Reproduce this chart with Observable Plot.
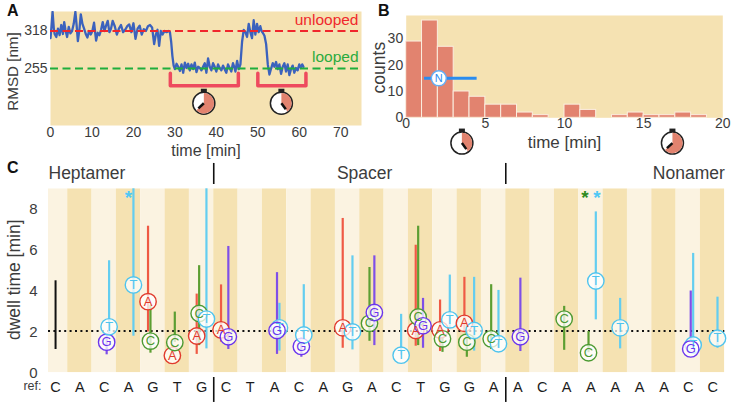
<!DOCTYPE html>
<html><head><meta charset="utf-8">
<script src="https://cdn.jsdelivr.net/npm/d3@7"></script>
<script src="https://cdn.jsdelivr.net/npm/@observablehq/plot@0.6"></script>
<style>
html,body{margin:0;padding:0;background:#fff;overflow:hidden}
#root{position:relative;width:732px;height:405px;font-family:"Liberation Sans",Arial,sans-serif}
#root svg{position:absolute;background:transparent;overflow:visible}
.letter{position:absolute;font:bold 16px "Liberation Sans",Arial,sans-serif;color:#111;line-height:1}
</style></head><body><div id="root"></div>
<script>
// Panel A: RMSD trace
const traceTime=[0,0.2,0.5,0.8,1,1.4,1.8,2.2,2.6,3,3.3,3.6,4,4.4,4.8,5.2,5.6,6,6.3,6.6,7,7.3,7.7,8.1,8.5,8.9,9.3,9.7,10.1,10.5,11,11.4,11.8,12.2,12.6,13,13.4,13.8,14.2,14.6,15,15.5,16,16.5,17,17.5,18,18.5,19,19.5,20,20.5,21,21.5,22,22.5,23,23.5,24,24.5,25,25.4,25.8,26.2,26.6,27,27.5,28,28.5,28.8,29.1,29.4,29.7,30,30.4,30.8,31.2,31.6,32,32.4,32.8,33.2,33.6,34,34.4,34.8,35.2,35.6,36,36.4,36.8,37.2,37.6,38,38.4,38.8,39.2,39.6,40,40.4,40.8,41.2,41.6,42,42.4,42.8,43.2,43.6,44,44.3,44.6,45,45.4,45.8,46.2,46.6,47,47.4,47.8,48.2,48.6,49,49.4,49.8,50.2,50.6,50.9,51.2,51.6,52,52.4,52.8,53.2,53.6,54,54.4,54.8,55.2,55.6,56,56.4,56.8,57.2,57.6,58,58.4,58.8,59.2,59.6,60,60.4,60.7,61];
const traceNm=[306,322,350,322,313,308,322,311,328,313,333,320,308,325,314,318,330,350,328,301,322,346,330,322,313,307,318,312,318,332,302,315,311,320,333,318,327,335,316,322,335,326,312,322,328,316,320,326,329,316,331,305,322,327,312,321,318,326,328,324,296,312,320,293,318,312,318,316,318,316,300,276,260,254,263,258,251,262,248,265,256,263,252,262,254,265,249,258,256,252,258,264,248,272,258,252,264,258,250,262,256,252,260,254,248,262,256,250,264,258,250,268,254,262,300,320,316,308,330,316,306,336,312,330,316,326,318,315,310,296,262,245,255,264,258,266,254,262,246,258,264,250,262,244,254,260,248,256,252,262,256,262,258,254,256,258,286];
const unloopedLevel=318, loopedLevel=255;
const bracketOne={t:[28.9,28.9,45.3,45.3],nm:[247,226,226,247]};
const bracketTwo={t:[50,50,61.6,61.6],nm:[247,226,226,247]};
const clocksA=[{x:37.1,y:196,turn:0.63},{x:55.8,y:196,turn:0.4}];

// Panel B: histogram
const binStart=[0,1,2,3,4,5,6,7,8,9,10,11,12,13,14,15,16,17,18];
const binCount=[29,37,27,10,8,5,5,2,1,0,5,3,0,1,2,1,1,2,1];
const medianN={x1:1.16,x2:4.48,mid:2.06,y:15};
const clocksB=[{x:3.55,y:-9.8,turn:0.4},{x:16.85,y:-9.8,turn:0.63}];

// Panel C: dwell times
const refBases=["C","A","C","A","G","T","G","C","T","A","C","A","G","A","C","T","G","G","A","A","C","A","A","A","A","A","C","C"];
const dwellCol =[2,2,3,4,4,5,5,6,6,6,7,7,9,9,10,10,12,12,13,13,14,15,15,15,16,16,16,17,17,17,18,18,19,21,22,22,23,26,26,27];
const dwellBase=["G","T","T","A","C","A","C","A","C","T","A","G","T","G","G","T","A","T","C","G","T","A","C","G","A","C","T","A","C","T","C","T","G","C","C","T","T","T","G","T"];
const dwellMid =[1.5,2.25,4.3,3.48,1.55,0.85,1.48,1.8,2.9,2.63,2.1,1.76,2.2,2.07,1.29,1.85,2.2,2.0,2.42,2.95,0.86,2.07,2.73,2.3,2.1,1.66,2.59,2.42,1.5,2.07,1.66,1.42,1.76,2.63,0.98,4.49,2.2,1.36,1.17,1.69];
const dwellLow =[0.88,1.9,1.79,2.0,0.96,0.85,1.48,0.9,1.33,1.17,1.5,1.14,1.06,0.9,0.76,1.6,1.2,1.12,1.54,1.33,0.86,1.3,1.33,1.2,1.04,1.0,2.2,2.0,0.76,1.06,1.14,1.2,1.04,1.1,0.98,2.59,1.17,1.1,1.0,1.2];
const dwellHigh=[1.9,5.48,9,7.17,3.3,1.3,2.97,3.85,5.24,9,4.3,6.18,3.4,4.9,1.7,4.31,7.55,5.72,5.15,5.72,2.86,6.24,7.17,3.64,3.56,2.1,4.78,4.67,2.2,4.67,4.31,4.03,4.63,3.25,2.02,7.87,3.64,5.84,4.0,3.7];
const stars=[{x:3,c:"#4fc8f5"},{x:21.75,c:"#2e8b1e"},{x:22.25,c:"#4fc8f5"}];
const segmentNames=["Heptamer","Spacer","Nonamer"];
const segmentX=[-0.29,12.7,27.5];
const dividers=[6.5,18.5];
const meanDwell=2.05;
const referenceBar={low:1.14,high:4.5};

const baseOffset={A:-0.2,C:-0.1,G:0.1,T:0.2};
const baseLine={A:"#ef5a45",C:"#5c9e32",G:"#7f4fe8",T:"#63cdf0"};
const baseText={A:"#e03a2c",C:"#4c9a32",G:"#6a35ee",T:"#4fc4ee"};
const SAND="#F5E2B2", LIGHT="#FBF3E1", SALMON="#E2836F", GREY="#3c3c3c";

const dwell=dwellCol.map((c,i)=>({x:c+baseOffset[dwellBase[i]],b:dwellBase[i],m:dwellMid[i],l:dwellLow[i],h:dwellHigh[i]}));
const trace=traceTime.map((t,i)=>({t,nm:traceNm[i]}));
const bins=binStart.map((s,i)=>({s,c:binCount[i]})).filter(d=>d.c>0);

function clockMark(list){
  return (index,scales)=>{
    const g=d3.create("svg:g");
    for(const c of list){
      const n=g.append("g").attr("transform",`translate(${scales.x(c.x)},${scales.y(c.y)})`);
      const a=2*Math.PI*c.turn, R=11;
      n.append("rect").attr("x",-3).attr("y",-14.5).attr("width",6).attr("height",3.5).attr("fill","#222");
      n.append("circle").attr("r",R).attr("fill","#fff").attr("stroke","#222").attr("stroke-width",1.5);
      n.append("path").attr("d",d3.arc()({innerRadius:0,outerRadius:R-0.8,startAngle:0,endAngle:a})).attr("fill",SALMON);
      n.append("line").attr("x2",7.5*Math.sin(a)).attr("y2",-7.5*Math.cos(a)).attr("stroke","#111").attr("stroke-width",2.5);
    }
    return g.node();
  };
}
const root=document.getElementById("root");
function place(svg,left,top){svg.style.left=left+"px";svg.style.top=top+"px";root.appendChild(svg);}
const fontStyle={fontFamily:"'Liberation Sans',Arial,sans-serif",background:"transparent",overflow:"visible"};

// ---- A
place(Plot.plot({
  width:365,height:155,marginLeft:50,marginRight:4,marginTop:11,marginBottom:30,style:fontStyle,
  x:{domain:[0,75],axis:null},y:{domain:[159.5,350.7],axis:null},
  marks:[
    Plot.frame({fill:SAND,stroke:"none"}),
    Plot.line(trace,{x:"t",y:"nm",stroke:"#3b62bd",strokeWidth:2.3,clip:true}),
    Plot.ruleY([unloopedLevel],{stroke:"#f0262c",strokeWidth:2,strokeDasharray:"8,4.5"}),
    Plot.ruleY([loopedLevel],{stroke:"#1fae3d",strokeWidth:2,strokeDasharray:"8,4.5"}),
    Plot.line(bracketOne.t.map((t,i)=>({t,nm:bracketOne.nm[i]})),{x:"t",y:"nm",stroke:"#ee4a5e",strokeWidth:3.5}),
    Plot.line(bracketTwo.t.map((t,i)=>({t,nm:bracketTwo.nm[i]})),{x:"t",y:"nm",stroke:"#ee4a5e",strokeWidth:3.5}),
    Plot.text(["unlooped"],{frameAnchor:"top-right",dx:-3,dy:2,fontSize:15.5,fill:"#f0282c"}),
    Plot.text(["looped"],{frameAnchor:"top-right",dx:-3,dy:39,fontSize:15.5,fill:"#2aab3e"}),
    clockMark(clocksA),
    Plot.axisX({ticks:[0,10,20,30,40,50,60,70],tickSize:0,tickPadding:2,fontSize:14,label:null,color:GREY}),
    Plot.axisY({ticks:[unloopedLevel,loopedLevel],tickSize:0,tickPadding:3,fontSize:14,label:null,color:GREY}),
    Plot.text(["time [min]"],{frameAnchor:"bottom",lineAnchor:"middle",dy:25,fontSize:16,fill:GREY}),
    Plot.text(["RMSD [nm]"],{frameAnchor:"left",textAnchor:"middle",lineAnchor:"middle",rotate:-90,dx:-37,dy:3,fontSize:15.2,fill:GREY})
  ]
}),0,0);

// ---- B
place(Plot.plot({
  width:367,height:160,marginLeft:40.7,marginRight:9.7,marginTop:15,marginBottom:42.7,style:fontStyle,
  x:{domain:[0,20],axis:null},y:{domain:[0,38.9],axis:null},
  marks:[
    Plot.frame({fill:SAND,stroke:"none"}),
    Plot.rect(bins,{x1:"s",x2:d=>d.s+1,y1:0,y2:"c",fill:SALMON,stroke:"#fbeee0",strokeWidth:1}),
    Plot.ruleY([medianN.y],{x1:medianN.x1,x2:medianN.x2,stroke:"#2a8cf0",strokeWidth:3}),
    Plot.dot([medianN],{x:"mid",y:"y",r:7.5,fill:"#fff",stroke:"#66aef5",strokeWidth:1.5}),
    Plot.text(["N"],{x:medianN.mid,y:medianN.y,fontSize:11,fill:"#2a8cf0"}),
    clockMark(clocksB),
    Plot.axisX({ticks:[0,5,10,15,20],tickSize:0,tickPadding:0,fontSize:14,label:null,color:GREY}),
    Plot.axisY({ticks:[0,10,20,30],tickSize:0,tickPadding:3,fontSize:14,label:null,color:GREY}),
    Plot.text(["time [min]"],{frameAnchor:"bottom",lineAnchor:"middle",dy:25,fontSize:17,fill:GREY}),
    Plot.text(["counts"],{frameAnchor:"left",textAnchor:"middle",lineAnchor:"middle",rotate:-90,dx:-27,dy:1,fontSize:17.5,fill:GREY})
  ]
}),365,0);

// ---- C
const colIndex=refBases.map((_,i)=>i);
place(Plot.plot({
  width:732,height:250,marginLeft:48,marginRight:7.7,marginTop:33.3,marginBottom:32.7,style:fontStyle,
  x:{domain:[-0.29,27.5],axis:null},y:{domain:[0,9],axis:null},
  marks:[
    Plot.rect(colIndex,{x1:d=>d-0.5,x2:d=>d+0.5,y1:0,y2:9,fill:d=>d%2?SAND:LIGHT,clip:true}),
    Plot.ruleY([meanDwell],{stroke:"#111",strokeWidth:2,strokeDasharray:"2,3.4"}),
    Plot.ruleX([0],{y1:referenceBar.low,y2:referenceBar.high,stroke:"#111",strokeWidth:2}),
    Plot.ruleX(dwell,{x:"x",y1:"l",y2:"h",stroke:d=>baseLine[d.b],strokeWidth:2.2}),
    Plot.dot(dwell,{x:"x",y:"m",r:8.2,fill:"#fff",fillOpacity:0.75,stroke:d=>baseText[d.b],strokeWidth:1.4}),
    Plot.text(dwell,{x:"x",y:"m",text:"b",fontSize:13,fill:d=>baseText[d.b]}),
    Plot.text(stars,{x:"x",y:8.7,text:()=>"*",fill:"c",fontSize:19,dy:3,fontWeight:"bold"}),
    Plot.ruleX(dividers,{y1:9.21,y2:10.24,stroke:"#111",strokeWidth:1.6}),
    Plot.ruleX(dividers,{y1:-0.23,y2:-1.45,stroke:"#111",strokeWidth:1.6}),
    Plot.text([segmentNames[0]],{x:segmentX[0],y:9.74,textAnchor:"start",fontSize:17.5,fill:GREY}),
    Plot.text([segmentNames[1]],{x:segmentX[1],y:9.74,textAnchor:"middle",fontSize:17.5,fill:GREY}),
    Plot.text([segmentNames[2]],{x:segmentX[2],y:9.74,textAnchor:"end",fontSize:17.5,fill:GREY}),
    Plot.text(colIndex,{x:d=>d,y:-0.72,text:d=>refBases[d],fontSize:14.5,fill:"#1c1c1c"}),
    Plot.text(["ref:"],{frameAnchor:"bottom-left",lineAnchor:"middle",dx:-7,dy:13,textAnchor:"end",fontSize:12.5,fill:GREY}),
    Plot.axisY({ticks:[0,2,4,6,8],tickSize:0,tickPadding:11,fontSize:15,label:null,color:GREY}),
    Plot.text(["dwell time [min]"],{frameAnchor:"left",textAnchor:"middle",lineAnchor:"middle",rotate:-90,dx:-34,dy:-1,fontSize:17.5,fill:GREY})
  ]
}),0,155);

for(const [t,x,y] of [["A",7,3],["B",378,3],["C",7,160]]){
  const d=document.createElement("div");d.className="letter";d.textContent=t;d.style.left=x+"px";d.style.top=y+"px";root.appendChild(d);
}
</script></body></html>
